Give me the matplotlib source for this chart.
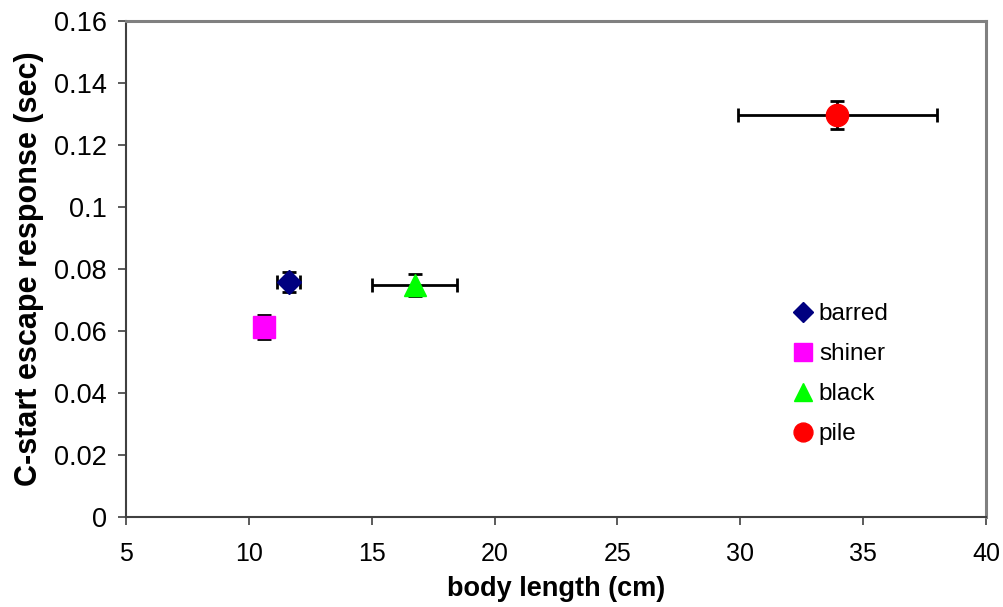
import matplotlib
matplotlib.use("Agg")
import matplotlib.pyplot as plt
from matplotlib.lines import Line2D

plt.rcParams['font.family'] = ['Liberation Sans', 'DejaVu Sans']

species = ["barred", "shiner", "black", "pile"]
body_length = [11.63, 10.63, 16.75, 33.95]
body_length_err = [0.47, 0.2, 1.73, 4.05]
escape_time = [0.0757, 0.0612, 0.0748, 0.1298]
escape_time_err = [0.0032, 0.0038, 0.0035, 0.0045]
markers = ["D", "s", "^", "o"]
colors = ["#000080", "#FF00FF", "#00FF00", "#FF0000"]
marker_sizes = [12, 16, 16, 16]

x_ticks = [5, 10, 15, 20, 25, 30, 35, 40]
y_ticks = [0, 0.02, 0.04, 0.06, 0.08, 0.1, 0.12, 0.14, 0.16]
y_tick_labels = ["0", "0.02", "0.04", "0.06", "0.08", "0.1", "0.12", "0.14", "0.16"]

fig = plt.figure(figsize=(10.04, 6.07), dpi=100)
ax = fig.add_axes([0.1255, 0.1483, 0.8565, 0.8171])

for i in range(len(species)):
    ax.errorbar(body_length[i], escape_time[i], xerr=body_length_err[i], yerr=escape_time_err[i],
                fmt=markers[i], color=colors[i], ms=marker_sizes[i], mec=colors[i],
                ecolor="black", elinewidth=2, capsize=5, capthick=2, zorder=3)

ax.set_xlim(5, 40)
ax.set_ylim(0, 0.16)
ax.set_xticks(x_ticks)
ax.set_xticklabels([str(t) for t in x_ticks])
ax.set_yticks(y_ticks)
ax.set_yticklabels(y_tick_labels)
ax.tick_params(axis='both', length=6, width=1.2, color="#404040", direction="out")
ax.tick_params(axis='x', pad=12, labelsize=18)
ax.tick_params(axis='y', pad=8, labelsize=19.5)

for s in ["left", "bottom"]:
    ax.spines[s].set_color("#404040")
    ax.spines[s].set_linewidth(1.5)
for s in ["top", "right"]:
    ax.spines[s].set_color("#808080")
    ax.spines[s].set_linewidth(2.2)

ax.set_xlabel("body length (cm)", fontsize=19.5, fontweight="bold", labelpad=7)
ax.set_ylabel("C-start escape response (sec)", fontsize=22, fontweight="bold", labelpad=7)

handles = [Line2D([], [], linestyle="none", marker=markers[i], color=colors[i], mec=colors[i],
                  ms=marker_sizes[i] * 0.85) for i in range(len(species))]
ax.legend(handles, species, loc="center left", bbox_to_anchor=(0.745, 0.288), frameon=False,
          fontsize=17.5, handletextpad=0.05, labelspacing=0.74, handlelength=1.2)

fig.savefig("out.png", dpi=100)
